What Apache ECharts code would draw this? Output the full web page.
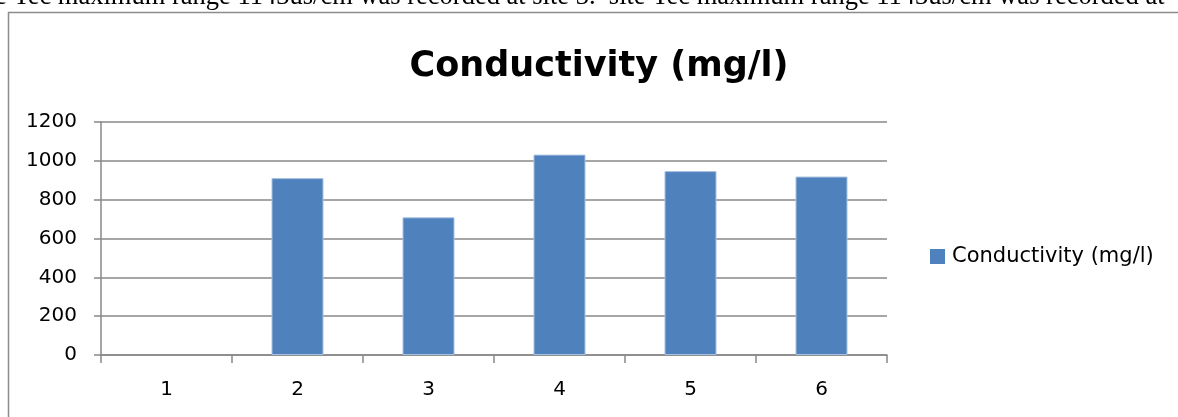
<!DOCTYPE html>
<html>
<head>
<meta charset="utf-8">
<script src="https://cdn.jsdelivr.net/npm/echarts@6/dist/echarts.min.js"></script>
<style>
    html, body { margin: 0; padding: 0; background: #fff; }
    #chart { width: 1178px; height: 417px; }
</style>
</head>
<body>
<div id="chart"></div>
<script>
// sites along the x axis
const sites = ["1", "2", "3", "4", "5", "6"];
// conductivity per site
const conductivity = [0, 911, 709, 1032, 947, 919];
// y axis range / step
const yMin = 0;
const yMax = 1200;
const yStep = 200;

const seriesName = "Conductivity (mg/l)";
const pageText = "e Tec maximum range 1143us/cm was recorded at site 3.  site Tec maximum range 1143us/cm was recorded at";

const gridColor = "#888888";
const font = "'DejaVu Sans', sans-serif";

const chart = echarts.init(document.getElementById("chart"));

const option = {
    animation: false,
    backgroundColor: "#fff",
    title: {
        text: seriesName,
        left: 594,
        top: 44,
        textAlign: "center",
        textStyle: {
            fontFamily: font,
            fontSize: 35,
            fontWeight: "bold",
            color: "#000",
        },
    },
    legend: {
        data: [seriesName],
        left: 930,
        top: 246,
        padding: 0,
        icon: "rect",
        itemWidth: 15,
        itemHeight: 15,
        itemGap: 0,
        itemStyle: { borderWidth: 0 },
        textStyle: {
            fontFamily: font,
            fontSize: 21,
            color: "#000",
            padding: [0, 0, 0, 2],
        },
    },
    grid: {
        left: 101,
        right: 291,
        top: 122,
        bottom: 62,
        containLabel: false,
    },
    xAxis: {
        type: "category",
        data: sites,
        axisLine: { show: true, lineStyle: { color: gridColor, width: 1.5 } },
        axisTick: { show: true, length: 8, lineStyle: { color: gridColor, width: 1.5 } },
        axisLabel: {
            margin: 25,
            fontFamily: font,
            fontSize: 20,
            color: "#000",
        },
        splitLine: { show: false },
    },
    yAxis: {
        type: "value",
        min: yMin,
        max: yMax,
        interval: yStep,
        axisLine: { show: true, lineStyle: { color: gridColor, width: 1.5 } },
        axisTick: { show: true, length: 7, lineStyle: { color: gridColor, width: 1.5 } },
        axisLabel: {
            margin: 24,
            fontFamily: font,
            fontSize: 20,
            color: "#000",
            formatter: (v) => String(v),
        },
        splitLine: { show: true, lineStyle: { color: gridColor, width: 1.5 } },
    },
    series: [
        {
            name: seriesName,
            type: "bar",
            // no outline on empty bars
            data: conductivity.map(v => (v === 0 ? { value: v, itemStyle: { borderWidth: 0 } } : v)),
            barWidth: 52,
            itemStyle: {
                color: "#4F81BD",
                borderColor: "#A9C1E0",
                borderWidth: 1,
            },
        },
    ],
    graphic: [
        {
            type: "rect",
            left: 6,
            top: 10,
            shape: { width: 1300, height: 600 },
            style: { fill: "none", stroke: "#8c8c8c", lineWidth: 1.5 },
            silent: true,
        },
        {
            type: "text",
            x: -5,
            y: -3,
            style: {
                text: pageText,
                font: "26.5px 'Liberation Serif', serif",
                fill: "#000",
                verticalAlign: "middle",
            },
            silent: true,
        },
    ],
};

chart.setOption(option);
</script>
</body>
</html>
